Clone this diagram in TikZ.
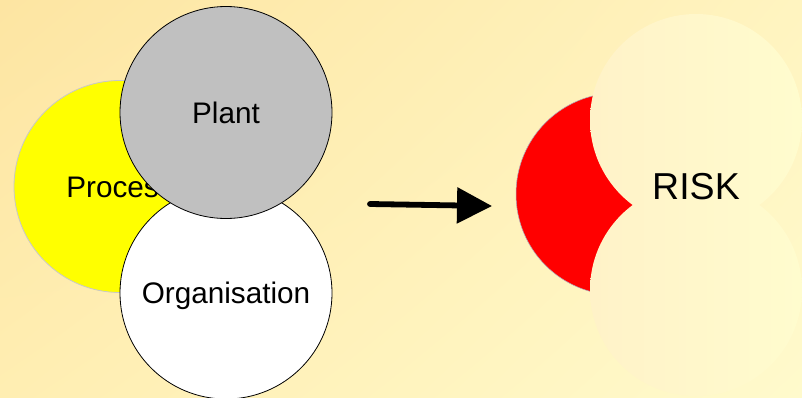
\documentclass[tikz,border=0pt]{standalone}
\usepackage{fontspec}
\setmainfont{Liberation Sans}
\usetikzlibrary{arrows.meta,shadings}
\definecolor{bgUL}{RGB}{253,229,162}
\definecolor{bgUR}{RGB}{255,244,192}
\definecolor{bgLL}{RGB}{255,238,178}
\definecolor{bgLR}{RGB}{255,250,204}
\definecolor{paleL}{RGB}{255,242,200}
\definecolor{paleR}{RGB}{255,252,206}
\definecolor{procYellow}{RGB}{255,255,0}
\definecolor{plantGray}{RGB}{192,192,192}
\definecolor{riskRed}{RGB}{255,0,0}
\begin{document}
\begin{tikzpicture}[x=1pt,y=-1pt,
  disc/.style={circle,minimum size=212pt,inner sep=0pt,line width=0.8pt,
    font=\fontsize{29.7}{31}\selectfont,text height=21.3pt,text depth=0pt},
  pale/.style={circle,minimum size=212pt,inner sep=0pt,left color=paleL,right color=paleR,draw=none},
  bigarrow/.style={line width=5.8pt,line cap=round,-{Triangle[length=35pt,width=35pt]}}]
\shade[upper left=bgUL,upper right=bgUR,lower left=bgLL,lower right=bgLR] (0,0) rectangle (802,397);
\useasboundingbox (0,0) rectangle (802,397);
\clip (0,0) rectangle (802,397);
% left group
\node[disc,fill=procYellow,draw={rgb,255:red,200;green,200;blue,200}] (process) at (120,186.5) {Process};
\node[disc,fill=white,draw=black] (org) at (226,293) {Organisation};
\node[disc,fill=plantGray,draw=black] (plant) at (226,112.5) {Plant};
% arrow
\coordinate (astart) at (370,204);
\coordinate (aend) at (492,206);
\draw[bigarrow] (astart) -- (aend);
% risk group
\node[circle,minimum size=202pt,inner sep=0pt,fill=riskRed,draw={rgb,255:red,170;green,170;blue,190},line width=0.5pt] (red) at (617,194) {};
\node[pale] (upper) at (696,120) {};
\node[pale] (lower) at (696,290) {};
\node[font=\fontsize{37.5}{40}\selectfont,inner sep=0pt,text height=26.9pt,text depth=0pt] (risk) at (696,186) {RISK};
\end{tikzpicture}
\end{document}
